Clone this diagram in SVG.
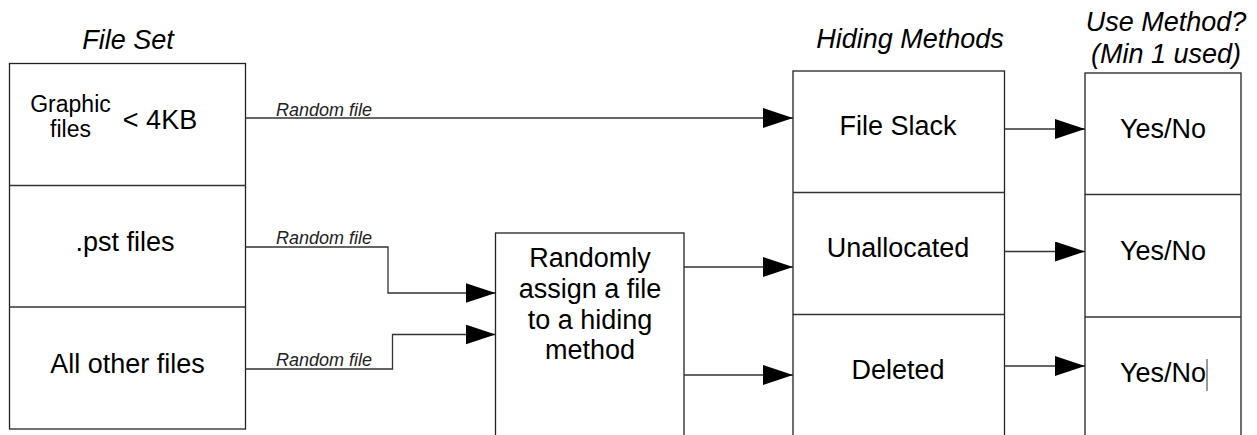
<svg xmlns="http://www.w3.org/2000/svg" width="1257" height="435" viewBox="0 0 1257 435">
<style>
text{font-family:"Liberation Sans",Arial,sans-serif;fill:#000;text-anchor:middle}
.h{font-size:27px;font-style:italic}
.t{font-size:27px}
.s{font-size:23px}
.r{font-size:18px;font-style:italic;text-anchor:start;fill:#222}
.box{fill:#fff;stroke:#222;stroke-width:1.3}
.div{stroke:#333;stroke-width:1.3;fill:none}
.c{stroke:#333;stroke-width:1.3;fill:none;marker-end:url(#ah)}
</style>
<defs>
<marker id="ah" markerUnits="userSpaceOnUse" markerWidth="30" markerHeight="20" refX="30" refY="10" orient="auto">
<path d="M0,0 L30,10 L0,20 Z" fill="#000"/>
</marker>
</defs>
<rect width="1257" height="435" fill="#fff"/>
<g id="titles">
<text class="h" x="128" y="49">File Set</text>
<text class="h" x="910" y="48">Hiding Methods</text>
<text class="h" x="1166" y="31">Use Method?</text>
<text class="h" x="1166" y="63">(Min 1 used)</text>
</g>
<g id="fileset">
<rect class="box" x="9.5" y="63.5" width="236" height="365.5"/>
<line class="div" x1="9.5" y1="185.5" x2="245.5" y2="185.5"/>
<line class="div" x1="9.5" y1="307" x2="245.5" y2="307"/>
</g>
<g id="graphic">
<text class="s" x="70.5" y="112">Graphic</text>
<text class="s" x="70.5" y="137">files</text>
<text class="t" x="160" y="129">&lt; 4KB</text>
</g>
<g id="pst"><text class="t" x="125" y="251">.pst files</text></g>
<g id="other"><text class="t" x="127.5" y="373">All other files</text></g>
<g id="assign">
<rect class="box" x="495.5" y="233" width="188.5" height="210"/>
<text class="t" x="590" y="267">Randomly</text>
<text class="t" x="590" y="298">assign a file</text>
<text class="t" x="590" y="329">to a hiding</text>
<text class="t" x="590" y="359">method</text>
</g>
<g id="methods">
<rect class="box" x="793" y="71" width="211.5" height="372"/>
<line class="div" x1="793" y1="192.5" x2="1004.5" y2="192.5"/>
<line class="div" x1="793" y1="314.5" x2="1004.5" y2="314.5"/>
</g>
<g id="fileslack"><text class="t" x="898" y="135">File Slack</text></g>
<g id="unallocated"><text class="t" x="898" y="257">Unallocated</text></g>
<g id="deleted"><text class="t" x="898" y="379">Deleted</text></g>
<g id="usemethod">
<rect class="box" x="1085" y="73" width="156" height="370"/>
<line class="div" x1="1085" y1="194.5" x2="1241" y2="194.5"/>
<line class="div" x1="1085" y1="317" x2="1241" y2="317" stroke-width="2"/>
<text class="t" x="1163" y="138">Yes/No</text>
<text class="t" x="1163" y="260">Yes/No</text>
<text class="t" x="1163" y="382">Yes/No</text>
<line x1="1207" y1="359" x2="1207" y2="391" stroke="#777" stroke-width="1.5"/>
</g>
<g id="connectors">
<path class="c" d="M245.5,118 H793"/>
<path class="c" d="M245.5,247 H388 V293 H495.5"/>
<path class="c" d="M245.5,369 H392.5 V334.5 H495.5"/>
<path class="c" d="M684,267 H793"/>
<path class="c" d="M684,375 H793"/>
<path class="c" d="M1004.5,129 H1085"/>
<path class="c" d="M1004.5,251.5 H1085"/>
<path class="c" d="M1004.5,366 H1085"/>
<text class="r" x="276" y="116">Random file</text>
<text class="r" x="276" y="244">Random file</text>
<text class="r" x="276" y="366">Random file</text>
</g>
</svg>
